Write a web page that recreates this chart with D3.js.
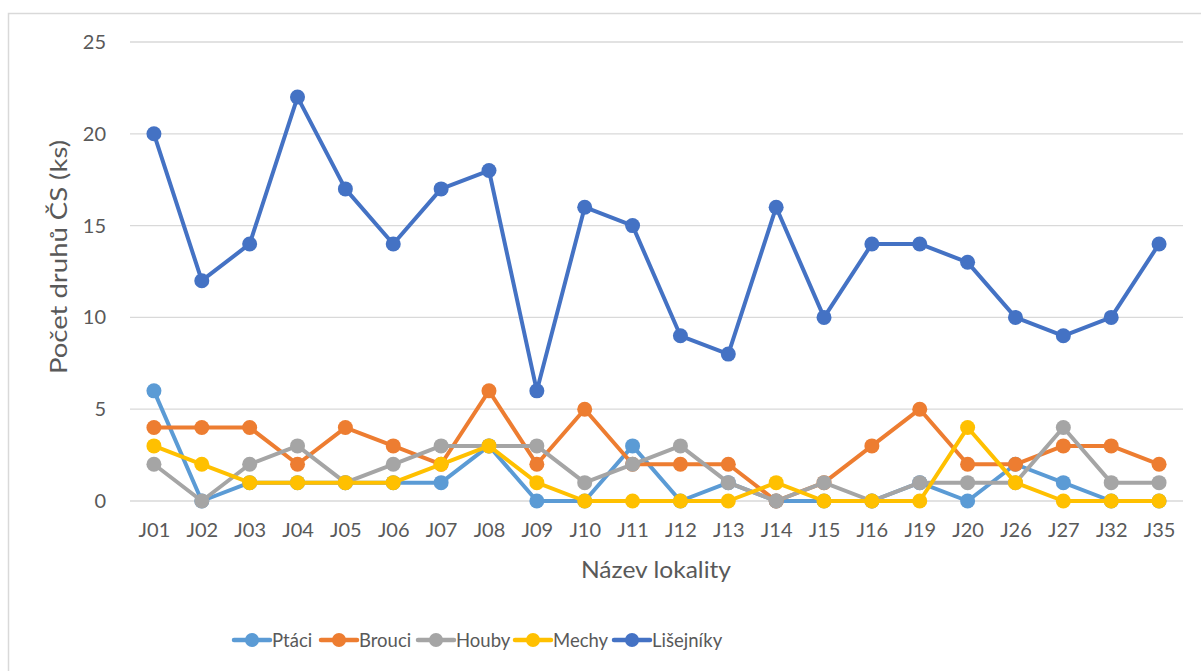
<!DOCTYPE html>
<html><head><meta charset="utf-8">
<script src="https://cdn.jsdelivr.net/npm/d3@7"></script>
<style>
body{margin:0;background:#fff;}
text{font-family:Lato,"Open Sans",sans-serif;fill:#595959;}
</style></head>
<body><svg id="c" width="1201" height="671"></svg>
<script>
const categories = ["J01","J02","J03","J04","J05","J06","J07","J08","J09","J10","J11","J12","J13","J14","J15","J16","J19","J20","J26","J27","J32","J35"];
const ptaci     = [6,0,1,1,1,1,1,3,0,0,3,0,1,0,0,0,1,0,2,1,0,0];
const brouci    = [4,4,4,2,4,3,2,6,2,5,2,2,2,0,1,3,5,2,2,3,3,2];
const houby     = [2,0,2,3,1,2,3,3,3,1,2,3,1,0,1,0,1,1,1,4,1,1];
const mechy     = [3,2,1,1,1,1,2,3,1,0,0,0,0,1,0,0,0,4,1,0,0,0];
const lisejniky = [20,12,14,22,17,14,17,18,6,16,15,9,8,16,10,14,14,13,10,9,10,14];
const yTicks = [0,5,10,15,20,25];
const seriesNames = ["Ptáci","Brouci","Houby","Mechy","Lišejníky"];
const seriesData = [ptaci,brouci,houby,mechy,lisejniky];
const colors = ["#5B9BD5","#ED7D31","#A5A5A5","#FFC000","#4472C4"];

const svg = d3.select("#c");
svg.append("rect").attr("x",8.5).attr("y",13.5).attr("width",1200).attr("height",700)
  .attr("fill","#fff").attr("stroke","#d9d9d9").attr("stroke-width",1.5);

const pLeft=130, pRight=1183, pTop=42, pBottom=501;
const x = d3.scalePoint().domain(categories).range([pLeft,pRight]).padding(0.5);
const y = d3.scaleLinear().domain([0,25]).range([pBottom,pTop]);

// gridlines
svg.append("g").selectAll("line").data(yTicks).join("line")
  .attr("x1",pLeft).attr("x2",pRight).attr("y1",d=>y(d)).attr("y2",d=>y(d))
  .attr("stroke","#d9d9d9").attr("stroke-width",1.3);

// y axis labels
const ya = svg.append("g").attr("transform",`translate(${pLeft-24},0)`)
  .call(d3.axisLeft(y).tickValues(yTicks).tickSize(0).tickPadding(0));
ya.select(".domain").remove();
ya.selectAll("text").attr("font-size",20).attr("font-family","Lato, sans-serif").attr("fill","#595959");

// x axis labels
const xa = svg.append("g").attr("transform",`translate(0,${pBottom})`)
  .call(d3.axisBottom(x).tickSize(0).tickPadding(22));
xa.select(".domain").remove();
xa.selectAll("text").attr("font-size",20).attr("font-family","Lato, sans-serif").attr("fill","#595959");

// titles
svg.append("text").attr("transform","translate(67,257) rotate(-90)").attr("text-anchor","middle")
  .attr("font-size",23).attr("textLength",234).attr("lengthAdjust","spacingAndGlyphs").text("Počet druhů ČS (ks)");
svg.append("text").attr("x",656).attr("y",578).attr("text-anchor","middle")
  .attr("font-size",23).attr("textLength",150).attr("lengthAdjust","spacingAndGlyphs").text("Název lokality");

// series
const line = d3.line().x((d,i)=>x(categories[i])).y(d=>y(d));
seriesData.forEach((s,k)=>{
  const g = svg.append("g");
  g.append("path").datum(s).attr("d",line).attr("fill","none")
    .attr("stroke",colors[k]).attr("stroke-width",4).attr("stroke-linejoin","round");
  g.selectAll("circle").data(s).join("circle")
    .attr("cx",(d,i)=>x(categories[i])).attr("cy",d=>y(d)).attr("r",7.5)
    .attr("fill",colors[k]);
});

// legend
const legX = [234,321,418,515,614];
const lg = svg.append("g");
seriesNames.forEach((n,k)=>{
  const gx = legX[k], gy = 640;
  lg.append("line").attr("x1",gx).attr("x2",gx+36).attr("y1",gy).attr("y2",gy)
    .attr("stroke",colors[k]).attr("stroke-width",4.5).attr("stroke-linecap","round");
  lg.append("circle").attr("cx",gx+18).attr("cy",gy).attr("r",7).attr("fill",colors[k]);
  lg.append("text").attr("x",gx+38).attr("y",gy+7).attr("font-size",18.5).text(n);
});
</script></body></html>
